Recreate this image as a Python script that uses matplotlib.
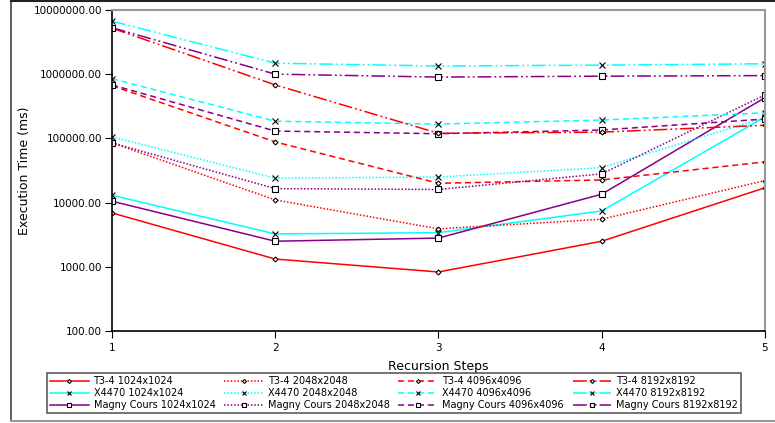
import numpy as np
import matplotlib
matplotlib.use('Agg')
import matplotlib.pyplot as plt
from matplotlib.lines import Line2D
from matplotlib.ticker import FixedLocator, FuncFormatter

steps = [1, 2, 3, 4, 5]
machines = ['T3-4', 'X4470', 'Magny Cours']
sizes = ['1024x1024', '2048x2048', '4096x4096', '8192x8192']

# execution times (ms), one list per machine/size
t34_1024 = [6900, 1320, 830, 2500, 17000]
t34_2048 = [85000, 11000, 3900, 5500, 22000]
t34_4096 = [660000, 88000, 20000, 22500, 43000]
t34_8192 = [5200000, 680000, 120000, 125000, 160000]

x4470_1024 = [13000, 3250, 3400, 7400, 215000]
x4470_2048 = [105000, 24000, 25000, 35000, 210000]
x4470_4096 = [850000, 185000, 167000, 193000, 250000]
x4470_8192 = [6700000, 1480000, 1340000, 1380000, 1450000]

magny_1024 = [10500, 2500, 2800, 13500, 430000]
magny_2048 = [85000, 16500, 16000, 28000, 475000]
magny_4096 = [680000, 130000, 118000, 135000, 200000]
magny_8192 = [5300000, 1000000, 900000, 930000, 950000]

data = {
    'T3-4': [t34_1024, t34_2048, t34_4096, t34_8192],
    'X4470': [x4470_1024, x4470_2048, x4470_4096, x4470_8192],
    'Magny Cours': [magny_1024, magny_2048, magny_4096, magny_8192],
}

colors = {'T3-4': '#ff0000', 'X4470': '#00ffff', 'Magny Cours': '#880088'}
markers = {'T3-4': 'D', 'X4470': 'x', 'Magny Cours': 's'}
msizes = {'T3-4': 2.5, 'X4470': 4, 'Magny Cours': 4}
styles = ['-', (0, (1, 1.2)), (0, (4, 2.5)), (0, (9, 2, 1.2, 2, 1.2, 2))]

fig = plt.figure(figsize=(7.75, 4.23), dpi=100)
ax = fig.add_axes([0.1445, 0.2175, 0.8425, 0.759])

handles = []
labels = []
for j, size in enumerate(sizes):
    for m in machines:
        ln, = ax.plot(steps, data[m][j], color=colors[m], linestyle=styles[j],
                      linewidth=1.1, marker=markers[m], markersize=msizes[m],
                      markerfacecolor='white', markeredgecolor='black',
                      markeredgewidth=0.8)
        handles.append(ln)
        labels.append(m + ' ' + size)

ax.set_yscale('log')
ax.set_ylim(100, 10000000)
ax.set_xlim(1, 5)
ax.yaxis.set_major_locator(FixedLocator([100, 1000, 10000, 100000, 1000000, 10000000]))
ax.yaxis.set_minor_locator(FixedLocator([]))
ax.yaxis.set_major_formatter(FuncFormatter(lambda v, p: '%.2f' % v))
ax.set_xticks(steps)
ax.tick_params(labelsize=7.5, length=5, width=0.8, colors='black')
ax.tick_params(axis='y', pad=2)
for s in ['top', 'right']:
    ax.spines[s].set_color('#999999')
    ax.spines[s].set_linewidth(1.5)
for s in ['left', 'bottom']:
    ax.spines[s].set_linewidth(1.2)

ax.set_xlabel('Recursion Steps', fontsize=9, labelpad=5)
ax.set_ylabel('Execution Time (ms)', fontsize=9, labelpad=2)

leg = fig.legend(handles, labels, ncol=4, loc='lower left',
                 bbox_to_anchor=(42 / 775, 5 / 423, 704 / 775, 45 / 423),
                 mode='expand', fontsize=7, frameon=True, fancybox=False,
                 handlelength=4, handletextpad=0.5, borderpad=0.3,
                 labelspacing=0.2, columnspacing=1.0, markerscale=0.8)
leg.get_frame().set_edgecolor('#333333')
leg.get_frame().set_linewidth(1.2)

# outer frame of the figure
fig.add_artist(Line2D([11 / 775, 11 / 775], [0.005, 0.998], color='#444444',
                      linewidth=1.2, transform=fig.transFigure))
fig.add_artist(Line2D([11 / 775, 1.0], [0.998, 0.998], color='#222222',
                      linewidth=1.5, transform=fig.transFigure))
fig.add_artist(Line2D([11 / 775, 1.0], [0.005, 0.005], color='#999999',
                      linewidth=1.5, transform=fig.transFigure))

fig.savefig('out.png', dpi=100)
